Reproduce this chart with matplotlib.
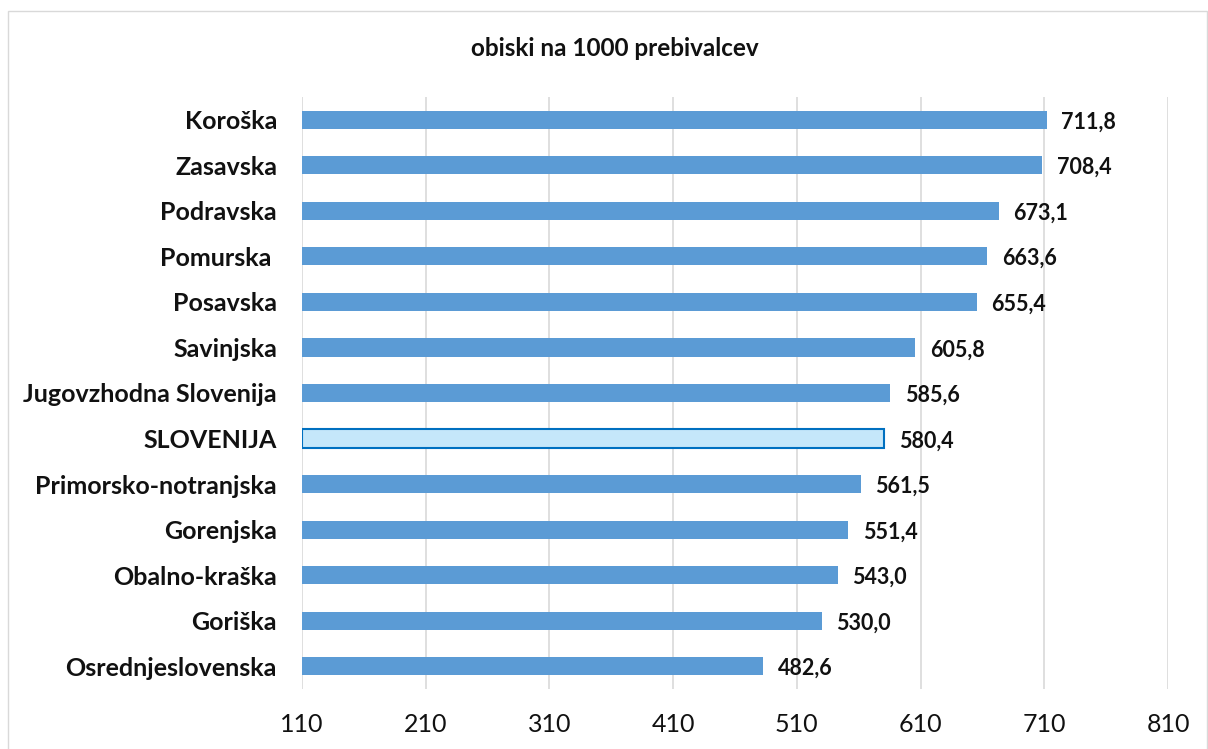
import matplotlib
matplotlib.use("Agg")
import matplotlib.pyplot as plt
from matplotlib.patches import Rectangle

categories = ["Koroška", "Zasavska", "Podravska", "Pomurska ", "Posavska", "Savinjska",
              "Jugovzhodna Slovenija", "SLOVENIJA", "Primorsko-notranjska", "Gorenjska",
              "Obalno-kraška", "Goriška", "Osrednjeslovenska"]
values = [711.8, 708.4, 673.1, 663.6, 655.4, 605.8, 585.6, 580.4, 561.5, 551.4, 543.0, 530.0, 482.6]
value_labels = ["711,8", "708,4", "673,1", "663,6", "655,4", "605,8", "585,6", "580,4",
                "561,5", "551,4", "543,0", "530,0", "482,6"]
xticks = [110, 210, 310, 410, 510, 610, 710, 810]
title = "obiski na 1000 prebivalcev"
highlight = "SLOVENIJA"

plt.rcParams['font.family'] = ['Lato', 'DejaVu Sans']

fig = plt.figure(figsize=(12.08, 7.49), dpi=100)
fig.patches.append(Rectangle((8/1208, -0.01), (1207-8)/1208, (749-11)/749 + 0.01,
                             transform=fig.transFigure, fill=False, edgecolor='#D9D9D9',
                             linewidth=1.0))
ax = fig.add_axes([302/1208, 60/749, (1168-302)/1208, (652-60)/749])

n = len(categories)
ypos = list(range(n))[::-1]
base = xticks[0]
for y, cat, v, lab in zip(ypos, categories, values, value_labels):
    if cat == highlight:
        ax.barh(y, v - base, left=base, height=0.4, color='#C5E7FA', edgecolor='#0070C0', linewidth=1.5, zorder=3)
    else:
        ax.barh(y, v - base, left=base, height=0.4, color='#5B9BD5', zorder=3)
    ax.text(v + 12, y - 0.05, lab, va='center', ha='left', fontsize=15.5, fontweight='bold', color='#111111')

ax.set_xlim(xticks[0], xticks[-1])
ax.set_ylim(-0.5, n - 0.5)
ax.set_xticks(xticks)
ax.set_xticklabels([str(t) for t in xticks], fontsize=18, color='#111111')
ax.set_yticks(ypos)
ax.set_yticklabels(categories, fontsize=18, fontweight='bold', color='#111111')
ax.tick_params(axis='both', length=0)
ax.tick_params(axis='x', pad=17)
ax.tick_params(axis='y', pad=18)
ax.grid(axis='x', color='#D9D9D9', linewidth=1.2, zorder=0)
for s in ax.spines.values():
    s.set_visible(False)

fig.text(615/1208, 1 - 48/749, title, ha='center', va='center', fontsize=17.5, fontweight='bold', color='#111111')

fig.savefig("out.png", dpi=100)
